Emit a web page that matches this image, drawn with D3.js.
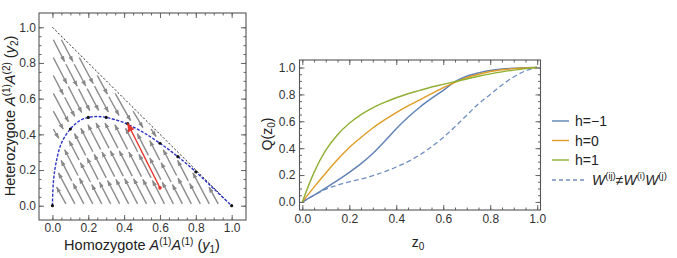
<!DOCTYPE html>
<html>
<head>
<meta charset="utf-8">
<script src="https://cdn.jsdelivr.net/npm/d3@7"></script>
<style>
  body { margin: 0; background: #fff; }
  text { font-family: "Liberation Sans", Arial, sans-serif; }
</style>
</head>
<body>
<div id="chart"></div>
<script>
// ---- data ----
const tickVals = [0, 0.2, 0.4, 0.6, 0.8, 1.0];

// Hardy-Weinberg curve
const hwY1 = [0, 0.005, 0.02, 0.05, 0.1, 0.15, 0.2, 0.25, 0.3, 0.4, 0.5, 0.6, 0.7, 0.8, 0.9, 1.0];
const hwY2 = [0, 0.13, 0.24, 0.35, 0.43, 0.475, 0.495, 0.5, 0.495, 0.465, 0.415, 0.35, 0.275, 0.19, 0.095, 0];
const dotY1 = [0, 0.1, 0.2, 0.3, 0.42, 0.6, 0.7, 0.8, 1.0];
const dotY2 = [0, 0.43, 0.495, 0.495, 0.46, 0.35, 0.275, 0.19, 0];

// stream lines (allele frequency p kept along each line)
const lowStreamP = [0.075, 0.125, 0.175, 0.225, 0.275, 0.325, 0.375, 0.425, 0.475, 0.525, 0.575, 0.625, 0.675, 0.725, 0.775, 0.825, 0.875, 0.925];
const highStreamP = [0.22, 0.27, 0.32, 0.37, 0.42, 0.47, 0.52, 0.57, 0.62, 0.67, 0.72, 0.77];

const redStart = [0.6, 0.1];
const redEnd = [0.42, 0.46];

// right panel
const z0 = [0, 0.05, 0.1, 0.15, 0.2, 0.25, 0.3, 0.35, 0.4, 0.45, 0.5, 0.55, 0.6, 0.65, 0.7, 0.75, 0.8, 0.85, 0.9, 0.95, 1.0];
const qHm1 = [0, 0.05, 0.105, 0.16, 0.22, 0.285, 0.36, 0.45, 0.545, 0.63, 0.705, 0.77, 0.83, 0.895, 0.935, 0.96, 0.978, 0.989, 0.995, 0.999, 1];
const qH0 = [0, 0.11, 0.215, 0.315, 0.405, 0.48, 0.55, 0.61, 0.665, 0.715, 0.76, 0.805, 0.85, 0.89, 0.925, 0.95, 0.97, 0.983, 0.992, 0.997, 1];
const qH1 = [0, 0.22, 0.385, 0.5, 0.585, 0.65, 0.7, 0.74, 0.775, 0.805, 0.83, 0.855, 0.875, 0.895, 0.915, 0.935, 0.953, 0.968, 0.981, 0.992, 1];
const qMult = [0, 0.05, 0.095, 0.125, 0.15, 0.17, 0.195, 0.225, 0.26, 0.3, 0.35, 0.41, 0.48, 0.56, 0.645, 0.73, 0.8, 0.87, 0.93, 0.975, 1];

const seriesNames = ["h=\u22121", "h=0", "h=1"];
const seriesColors = ["#5e81b5", "#e19c24", "#8fb032"];

const W = 677, H = 258;
const svg = d3.select("#chart").append("svg")
    .attr("width", W).attr("height", H)
    .style("background", "#fff");

const defs = svg.append("defs");
defs.append("marker").attr("id", "grayHead")
    .attr("markerUnits", "userSpaceOnUse")
    .attr("markerWidth", 7).attr("markerHeight", 6)
    .attr("refX", 5.5).attr("refY", 3).attr("orient", "auto")
    .append("path").attr("d", "M0,0.8 L6,3 L0,5.2 z").attr("fill", "#888");
defs.append("marker").attr("id", "redHead")
    .attr("markerUnits", "userSpaceOnUse")
    .attr("markerWidth", 10).attr("markerHeight", 8)
    .attr("refX", 8).attr("refY", 4).attr("orient", "auto")
    .append("path").attr("d", "M0,0.5 L9,4 L0,7.5 z").attr("fill", "#e8372c");

// draws a Mathematica-ish frame with inward ticks on all four sides
function frame(g, x, y, labelSize, pad) {
    const [x0, x1] = x.range();
    const [y0, y1] = y.range();
    const minor = d3.range(0, 1.0001, 0.05);
    const sides = [
        [d3.axisBottom(x), y0, 0, true],
        [d3.axisTop(x), y1, 0, false],
        [d3.axisLeft(y), 0, x0, true],
        [d3.axisRight(y), 0, x1, false]
    ];
    sides.forEach(([ax, ty, tx, labels]) => {
        g.append("g").attr("transform", `translate(${tx},${ty})`)
            .call(ax.tickValues(minor).tickSize(-2.5).tickFormat(""))
            .call(s => s.select(".domain").remove())
            .selectAll("line").attr("stroke", "#666");
        const a = g.append("g").attr("transform", `translate(${tx},${ty})`)
            .call(ax.tickValues(tickVals).tickSize(-5).tickPadding(pad)
                .tickFormat(labels ? d3.format(".1f") : ""));
        a.select(".domain").remove();
        a.selectAll("line").attr("stroke", "#666");
        a.selectAll("text").attr("font-size", labelSize).attr("fill", "#333")
            .style("font-family", "'Liberation Sans', Arial, sans-serif");
    });
    g.append("rect").attr("x", x0).attr("y", y1)
        .attr("width", x1 - x0).attr("height", y0 - y1)
        .attr("fill", "none").attr("stroke", "#555").attr("stroke-width", 1.1);
}

// ---------- left panel ----------
const xL = d3.scaleLinear().domain([-0.075, 1.08]).range([39, 246]);
const yL = d3.scaleLinear().domain([-0.08, 1.08]).range([220, 13]);
const left = svg.append("g");

// stream segments with arrowheads
function streamLine(a, b) {
    const ax = xL(a[0]), ay = yL(a[1]), bx = xL(b[0]), by = yL(b[1]);
    const len = Math.hypot(bx - ax, by - ay);
    const seg = 24, gap = 3;
    const n = Math.max(1, Math.round(len / (seg + gap)));
    const step = len / n;
    for (let i = 0; i < n; i++) {
        const t0 = (i * step) / len, t1 = ((i + 1) * step - gap) / len;
        left.append("line")
            .attr("x1", ax + (bx - ax) * t0).attr("y1", ay + (by - ay) * t0)
            .attr("x2", ax + (bx - ax) * t1).attr("y2", ay + (by - ay) * t1)
            .attr("stroke", "#8c8c8c").attr("stroke-width", 1.4)
            .attr("marker-end", "url(#grayHead)");
    }
}
lowStreamP.forEach(p => {
    streamLine([p, 0.01], [p * p + 0.01, 2 * p * (1 - p) - 0.02]);
});
highStreamP.forEach(p => {
    const start = p <= 0.5 ? [0.005, 2 * p - 0.01] : [2 * p - 1 + 0.01, 2 * (1 - p) - 0.03];
    streamLine(start, [p * p - 0.005, 2 * p * (1 - p) + 0.02]);
});

// diagonal y1 + y2 = 1
left.append("line")
    .attr("x1", xL(0)).attr("y1", yL(1)).attr("x2", xL(1)).attr("y2", yL(0))
    .attr("stroke", "#111").attr("stroke-width", 0.9).attr("stroke-dasharray", "2,2");

// Hardy-Weinberg curve
const hwLine = d3.line().x((d, i) => xL(hwY1[i])).y((d, i) => yL(hwY2[i])).curve(d3.curveCatmullRom);
left.append("path").datum(hwY1).attr("d", hwLine)
    .attr("fill", "none").attr("stroke", "#2d34c8").attr("stroke-width", 1.4)
    .attr("stroke-dasharray", "3,1.5");
left.selectAll(".hwdot").data(dotY1).enter().append("circle")
    .attr("cx", d => xL(d)).attr("cy", (d, i) => yL(dotY2[i])).attr("r", 1.6)
    .attr("fill", "#111");

// red trajectory
left.append("line")
    .attr("x1", xL(redStart[0])).attr("y1", yL(redStart[1]))
    .attr("x2", xL(redEnd[0])).attr("y2", yL(redEnd[1]))
    .attr("stroke", "#e8372c").attr("stroke-width", 1.3)
    .attr("marker-end", "url(#redHead)");
left.append("circle").attr("cx", xL(redStart[0])).attr("cy", yL(redStart[1]))
    .attr("r", 1.8).attr("fill", "#e8372c");

frame(left, xL, yL, 12, 3);

// axis titles
const xt = left.append("text").attr("x", 142).attr("y", 250)
    .attr("text-anchor", "middle").attr("font-size", 14.5).attr("fill", "#222");
xt.append("tspan").text("Homozygote ");
xt.append("tspan").attr("font-style", "italic").text("A");
xt.append("tspan").attr("font-size", 10).attr("dy", -5).text("(1)");
xt.append("tspan").attr("font-style", "italic").attr("dy", 5).text("A");
xt.append("tspan").attr("font-size", 10).attr("dy", -5).text("(1)");
xt.append("tspan").attr("dy", 5).text(" (");
xt.append("tspan").attr("font-style", "italic").text("y");
xt.append("tspan").attr("font-size", 10).attr("dy", 3).text("1");
xt.append("tspan").attr("dy", -3).text(")");

const yt = left.append("text").attr("transform", "translate(15,116) rotate(-90)")
    .attr("text-anchor", "middle").attr("font-size", 14.5).attr("fill", "#222");
yt.append("tspan").text("Heterozygote ");
yt.append("tspan").attr("font-style", "italic").text("A");
yt.append("tspan").attr("font-size", 10).attr("dy", -5).text("(1)");
yt.append("tspan").attr("font-style", "italic").attr("dy", 5).text("A");
yt.append("tspan").attr("font-size", 10).attr("dy", -5).text("(2)");
yt.append("tspan").attr("dy", 5).text(" (");
yt.append("tspan").attr("font-style", "italic").text("y");
yt.append("tspan").attr("font-size", 10).attr("dy", 3).text("2");
yt.append("tspan").attr("dy", -3).text(")");

// ---------- right panel ----------
const xR = d3.scaleLinear().domain([-0.012, 1.014]).range([299.5, 540.5]);
const yR = d3.scaleLinear().domain([-0.06, 1.056]).range([210, 60]);
const right = svg.append("g");

const qLine = vals => d3.line().x((d, i) => xR(z0[i])).y((d, i) => yR(vals[i])).curve(d3.curveMonotoneX)(vals);

right.append("path").attr("d", qLine(qMult))
    .attr("fill", "none").attr("stroke", "#6f8fc4").attr("stroke-width", 1.3)
    .attr("stroke-dasharray", "5,3");
[qHm1, qH0, qH1].forEach((vals, k) => {
    right.append("path").attr("d", qLine(vals))
        .attr("fill", "none").attr("stroke", seriesColors[k]).attr("stroke-width", 1.4);
});

frame(right, xR, yR, 12, 4);

const zt = right.append("text").attr("x", 418).attr("y", 247)
    .attr("text-anchor", "middle").attr("font-size", 14).attr("fill", "#222");
zt.append("tspan").text("z");
zt.append("tspan").attr("font-size", 10).attr("dy", 3).text("0");

const qt = right.append("text").attr("transform", "translate(272,134) rotate(-90)")
    .attr("text-anchor", "middle").attr("font-size", 14).attr("fill", "#222");
qt.append("tspan").text("Q(z");
qt.append("tspan").attr("font-size", 10).attr("dy", 3).text("0");
qt.append("tspan").attr("dy", -3).text(")");

// legend
const legY = [121, 140.5, 160, 180];
seriesNames.forEach((name, k) => {
    right.append("line").attr("x1", 552).attr("x2", 569)
        .attr("y1", legY[k]).attr("y2", legY[k])
        .attr("stroke", seriesColors[k]).attr("stroke-width", 1.4);
    right.append("text").attr("x", 575).attr("y", legY[k] + 5)
        .attr("font-size", 14).attr("fill", "#222").text(name);
});
right.append("line").attr("x1", 552).attr("x2", 584)
    .attr("y1", legY[3]).attr("y2", legY[3])
    .attr("stroke", "#6f8fc4").attr("stroke-width", 1.3).attr("stroke-dasharray", "4,3");
const lt = right.append("text").attr("x", 592).attr("y", legY[3] + 5)
    .attr("font-size", 14).attr("fill", "#222");
lt.append("tspan").attr("font-style", "italic").text("W");
lt.append("tspan").attr("font-size", 9.5).attr("dy", -6).text("(ij)");
lt.append("tspan").attr("dy", 6).text("\u2260");
lt.append("tspan").attr("font-style", "italic").text("W");
lt.append("tspan").attr("font-size", 9.5).attr("dy", -6).text("(i)");
lt.append("tspan").attr("font-style", "italic").attr("dy", 6).text("W");
lt.append("tspan").attr("font-size", 9.5).attr("dy", -6).text("(j)");
</script>
</body>
</html>
